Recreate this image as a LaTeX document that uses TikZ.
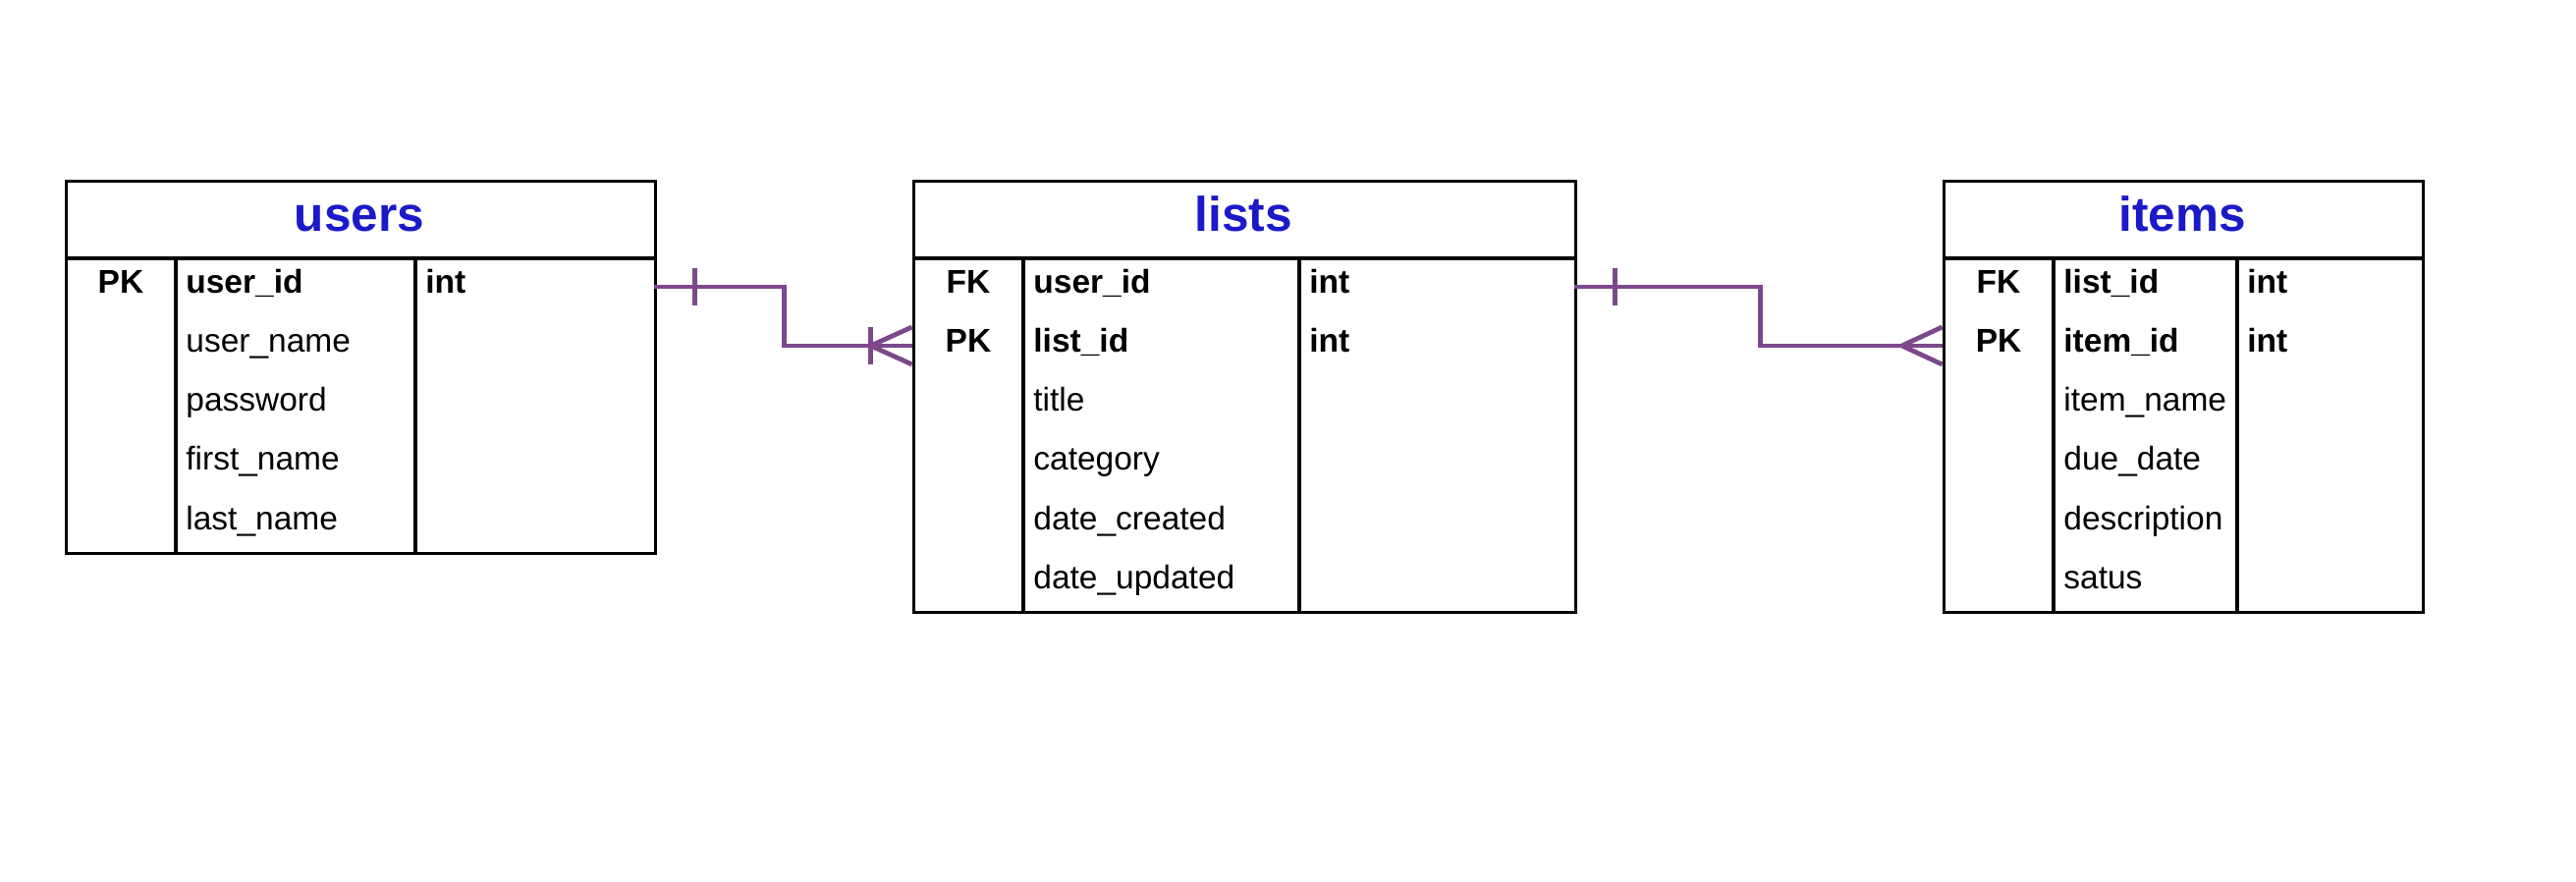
\documentclass[tikz,border=0pt]{standalone}
\usepackage{fontspec}
\setmainfont{Liberation Sans}
\usetikzlibrary{calc}
\definecolor{relcol}{RGB}{124,72,139}
\definecolor{titleblue}{RGB}{26,26,200}
\tikzset{
  frame/.style={draw=black, line width=1.6pt},
  tblbox/.style={frame, inner sep=0pt, anchor=north west},
  rel/.style={draw=relcol, line width=2.4pt},
  ttl/.style={font=\fontsize{24.75}{30}\selectfont\bfseries, text=titleblue, anchor=base, inner sep=0pt},
  keytxt/.style={font=\fontsize{16.75}{20}\selectfont\bfseries, anchor=base, inner sep=0pt},
  fld/.style={font=\fontsize{16.75}{20}\selectfont, anchor=base west, inner sep=0pt},
  fldb/.style={font=\fontsize{16.75}{20}\selectfont\bfseries, anchor=base west, inner sep=0pt},
  rowbox/.style={inner sep=0pt, minimum height=30pt},
}
\begin{document}
\begin{tikzpicture}[x=0.5pt,y=-0.5pt]
\useasboundingbox (0,0) rectangle (2623,898);

% ---------- users ----------
\node[tblbox, minimum width=300pt, minimum height=189.5pt] (users) at (66,183) {};
\draw[frame] (66,263) -- (666,263);
\draw[frame] (179,263) -- (179,562);
\draw[frame] (423,263) -- (423,562);
\node[ttl] (users-title) at (366,236) {users};
\node[rowbox, minimum width=300pt] (users-r1) at (366,292) {};
\node[keytxt] (users-k1) at (123,299) {PK};
\node[fldb] (users-f1) at (189,299) {user\_id};
\node[fld] (users-f2) at (189,359) {user\_name};
\node[fld] (users-f3) at (189,419) {password};
\node[fld] (users-f4) at (189,479) {first\_name};
\node[fld] (users-f5) at (189,539) {last\_name};
\node[fldb] (users-t1) at (433,299) {int};

% ---------- lists ----------
\node[tblbox, minimum width=337pt, minimum height=219.5pt] (lists) at (929,183) {};
\draw[frame] (929,263) -- (1603,263);
\draw[frame] (1042,263) -- (1042,622);
\draw[frame] (1323,263) -- (1323,622);
\node[ttl] (lists-title) at (1266,236) {lists};
\node[rowbox, minimum width=337pt] (lists-r1) at (1266,292) {};
\node[rowbox, minimum width=337pt] (lists-r2) at (1266,352) {};
\node[keytxt] (lists-k1) at (986,299) {FK};
\node[keytxt] (lists-k2) at (986,359) {PK};
\node[fldb] (lists-f1) at (1052,299) {user\_id};
\node[fldb] (lists-f2) at (1052,359) {list\_id};
\node[fld] (lists-f3) at (1052,419) {title};
\node[fld] (lists-f4) at (1052,479) {category};
\node[fld] (lists-f5) at (1052,539) {date\_created};
\node[fld] (lists-f6) at (1052,599) {date\_updated};
\node[fldb] (lists-t1) at (1333,299) {int};
\node[fldb] (lists-t2) at (1333,359) {int};

% ---------- items ----------
\node[tblbox, minimum width=244pt, minimum height=219.5pt] (items) at (1978,183) {};
\draw[frame] (1978,263) -- (2466,263);
\draw[frame] (2091,263) -- (2091,622);
\draw[frame] (2278,263) -- (2278,622);
\node[ttl] (items-title) at (2222,236) {items};
\node[rowbox, minimum width=244pt] (items-r2) at (2222,352) {};
\node[keytxt] (items-k1) at (2035,299) {FK};
\node[keytxt] (items-k2) at (2035,359) {PK};
\node[fldb] (items-f1) at (2101,299) {list\_id};
\node[fldb] (items-f2) at (2101,359) {item\_id};
\node[fld] (items-f3) at (2101,419) {item\_name};
\node[fld] (items-f4) at (2101,479) {due\_date};
\node[fld] (items-f5) at (2101,539) {description};
\node[fld] (items-f6) at (2101,599) {satus};
\node[fldb] (items-t1) at (2288,299) {int};
\node[fldb] (items-t2) at (2288,359) {int};

% ---------- relation users -> lists ----------
\draw[rel] (users-r1.east) -- ++(132,0) |- (lists-r2.west);
\draw[rel] ($(users-r1.east)+(41,-19)$) -- ++(0,38);
\draw[rel] ($(lists-r2.west)+(0,-19)$) -- ($(lists-r2.west)+(-42,0)$) -- ($(lists-r2.west)+(0,19)$);
\draw[rel] ($(lists-r2.west)+(-42,-19)$) -- ++(0,38);

% ---------- relation lists -> items ----------
\draw[rel] (lists-r1.east) -- ++(189,0) |- (items-r2.west);
\draw[rel] ($(lists-r1.east)+(41,-19)$) -- ++(0,38);
\draw[rel] ($(items-r2.west)+(0,-19)$) -- ($(items-r2.west)+(-41,0)$) -- ($(items-r2.west)+(0,19)$);
\end{tikzpicture}
\end{document}
